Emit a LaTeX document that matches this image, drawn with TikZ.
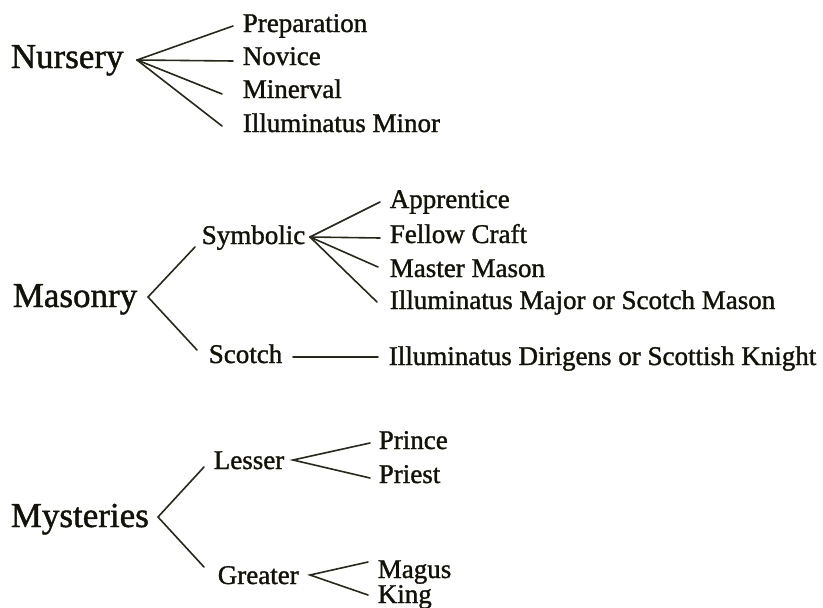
\documentclass[tikz,border=0pt]{standalone}
\usepackage{fontspec}
\setmainfont{Liberation Serif}
\newfontfamily\inkfont{Liberation Serif}[FakeBold=1.2]
\definecolor{ink}{RGB}{18,18,8}
\definecolor{wire}{RGB}{40,40,26}

\begin{document}
\begin{tikzpicture}[x=1pt,y=-1pt,line width=1.6pt,
  rank/.style={anchor=base west,inner sep=0pt,text=ink,font=\inkfont\fontsize{35}{40}\selectfont},
  grade/.style={anchor=base west,inner sep=0pt,text=ink,font=\inkfont\fontsize{27}{32}\selectfont},
  branch/.style={draw=wire,line cap=round}]
\useasboundingbox (0,0) rectangle (823,608);
\path
% nursery
(10,68) node[rank] (nursery) {Nursery}
(242,32) node[grade] (prep) {Preparation}
(242,65) node[grade] (novice) {Novice}
(242,98) node[grade] (minerval) {Minerval}
(242,132) node[grade] (illmin) {Illuminatus Minor}
% masonry
(12,307) node[rank] (masonry) {Masonry}
(201,244) node[grade] (symbolic) {Symbolic}
(208,363) node[grade] (scotch) {Scotch}
(389,208) node[grade] (appr) {Apprentice}
(389,243) node[grade] (fellow) {Fellow Craft}
(389,277) node[grade] (master) {Master Mason}
(389,309) node[grade] (illmaj) {Illuminatus Major or Scotch Mason}
(388,365) node[grade] (illdir) {Illuminatus Dirigens or Scottish Knight}
% mysteries
(10,527) node[rank] (mysteries) {Mysteries}
(213,469) node[grade] (lesser) {Lesser}
(217,584) node[grade] (greater) {Greater}
(378,449) node[grade] (prince) {Prince}
(378,483) node[grade] (priest) {Priest}
(377,578) node[grade] (magus) {Magus}
(377,603) node[grade] (king) {King}
;
% fork points
\coordinate (nurJ) at (137,60);
\coordinate (masJ) at (148,297);
\coordinate (symJ) at (310,237);
\coordinate (scoJ) at (293,357);
\coordinate (mysJ) at (158,517);
\coordinate (lesJ) at (293,460);
\coordinate (greJ) at (310,575);
% free ends
\coordinate (prepE) at (233,26);
\coordinate (noviceE) at (233,61);
\coordinate (minervalE) at (222,94);
\coordinate (illminE) at (222,126);
\coordinate (symE) at (195,247);
\coordinate (scoE) at (197,350);
\coordinate (apprE) at (380,202);
\coordinate (fellowE) at (380,238);
\coordinate (masterE) at (378,267);
\coordinate (illmajE) at (377,302);
\coordinate (illdirE) at (378,357);
\coordinate (lesE) at (204,467);
\coordinate (greE) at (204,567);
\coordinate (princeE) at (370,443);
\coordinate (priestE) at (370,478);
\coordinate (magusE) at (368,562);
\coordinate (kingE) at (368,595);

\draw[branch] (nurJ) -- (prepE);
\draw[branch] (nurJ) -- (noviceE);
\draw[branch] (nurJ) -- (minervalE);
\draw[branch] (nurJ) -- (illminE);
\draw[branch] (symE) -- (masJ) -- (scoE);
\draw[branch] (symJ) -- (apprE);
\draw[branch] (symJ) -- (fellowE);
\draw[branch] (symJ) -- (masterE);
\draw[branch] (symJ) -- (illmajE);
\draw[branch] (scoJ) -- (illdirE);
\draw[branch] (lesE) -- (mysJ) -- (greE);
\draw[branch] (princeE) -- (lesJ) -- (priestE);
\draw[branch] (magusE) -- (greJ) -- (kingE);
\end{tikzpicture}
\end{document}
